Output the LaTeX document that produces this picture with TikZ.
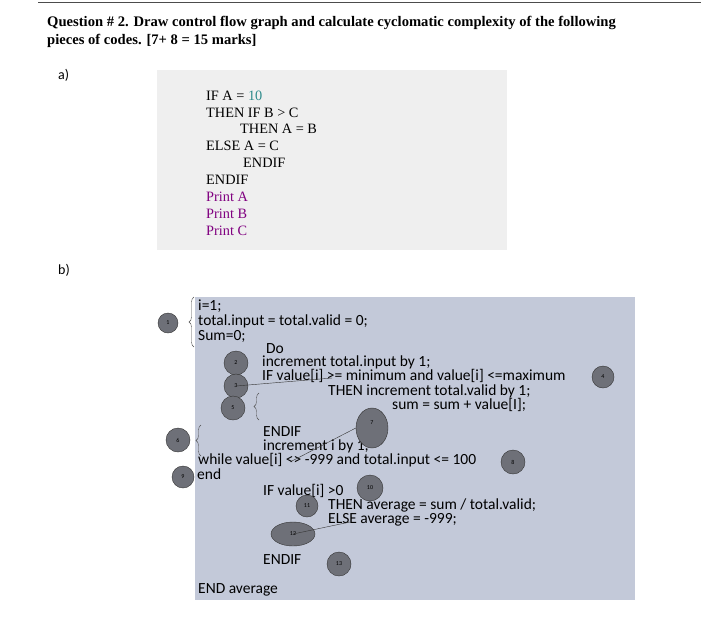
\documentclass[tikz,border=0pt]{standalone}
\usepackage{fontspec}
\setmainfont{Carlito}
\newfontfamily\tnr{Liberation Serif}
\usetikzlibrary{decorations.pathreplacing,shapes.geometric}
\definecolor{boxa}{HTML}{EFEFEF}
\definecolor{boxb}{HTML}{C3C9D9}
\definecolor{circ}{HTML}{6E7078}
\definecolor{tealc}{HTML}{2E8B8B}
\definecolor{purp}{HTML}{800080}
\begin{document}
\begin{tikzpicture}[x=1pt,y=-1pt,
  txt/.style={anchor=west,inner sep=0pt,font=\fontsize{15.5}{15.5}\selectfont},
  code/.style={anchor=west,inner sep=0pt,font=\tnr\fontsize{14.3}{14.3}\selectfont},
  num/.style={circle,draw=black!80,fill=circ,inner sep=0pt,font=\fontsize{6}{6}\selectfont,text=black},
  brc/.style={decorate,decoration={brace,amplitude=5pt},draw=black!70,thin}]
\useasboundingbox (0,0) rectangle (701,619);
\fill[white] (0,0) rectangle (701,619);
\draw[black!70] (38,2) -- (701,2);
\node[anchor=west,inner sep=0pt,font=\tnr\bfseries\fontsize{14.6}{14.6}\selectfont] (t1) at (47,23) {Question \# 2. Draw control flow graph and calculate cyclomatic complexity of the following};
\node[anchor=west,inner sep=0pt,font=\tnr\bfseries\fontsize{14.6}{14.6}\selectfont] (t2) at (47,41) {pieces of codes. [7+ 8 = 15 marks]};
\node[txt,font=\fontsize{14}{14}\selectfont] (la) at (58,75) {a)};
\fill[boxa] (157,70) rectangle (507,250);
\node[code] (a1) at (206,96) {IF A = \textcolor{tealc}{10}};
\node[code] (a2) at (206,113) {THEN IF B > C};
\node[code] (a3) at (240,129) {THEN A = B};
\node[code] (a4) at (206,146) {ELSE A = C};
\node[code] (a5) at (243,163) {ENDIF};
\node[code] (a6) at (206,180) {ENDIF};
\node[code,text=purp] (a7) at (206,197) {Print A};
\node[code,text=purp] (a8) at (206,214) {Print B};
\node[code,text=purp] (a9) at (206,231) {Print C};
\node[txt,font=\fontsize{14}{14}\selectfont] (lb) at (58,270) {b)};
\fill[boxb] (195,297) rectangle (635,600);
\draw[brc] (194,347) -- (194,297);
\node[txt] (b1) at (198,306) {i=1;};
\node[txt] (b2) at (198,321) {total.input = total.valid = 0;};
\node[txt] (b3) at (198,336) {Sum=0;};
\node[txt] (b4) at (266,349) {Do};
\node[txt] (b5) at (262,362) {increment total.input by 1;};
\node[txt] (b6) at (262,376) {IF value[i] >= minimum and value[i] <=maximum};
\node[txt] (b7) at (328,391) {THEN increment total.valid by 1;};
\node[txt] (b8) at (392,405) {sum = sum + value[I];};
\draw[brc] (259,420) -- (259,393);
\node[txt] (b9) at (263,432) {ENDIF};
\node[txt] (b10) at (263,446) {increment i by 1;};
\draw[brc] (201,456) -- (201,425);
\node[txt] (b11) at (198,460) {while value[i] <> -999 and total.input <= 100};
\node[txt] (b12) at (197,474) {end};
\node[txt] (b13) at (263,491) {IF value[i] >0};
\node[txt] (b14) at (328,505) {THEN average = sum / total.valid;};
\node[txt] (b15) at (328,520) {ELSE average = -999;};
\node[txt] (b16) at (263,560) {ENDIF};
\node[txt] (b17) at (198,590) {END average};
\node[num,minimum size=20] (n1) at (168,323) {1};
\node[num,minimum size=24] (n2) at (236,363) {2};
\node[num,minimum size=24] (n3) at (236,386) {3};
\node[num,minimum size=22] (n4) at (603,377) {4};
\node[num,minimum size=24] (n5) at (233,408) {5};
\node[num,minimum size=24] (n6) at (178,440) {6};
\node[num,ellipse,minimum width=32,minimum height=40] (n7) at (372,428) {\raisebox{10pt}{7}};
\node[num,minimum size=24] (n8) at (513,462) {8};
\node[num,minimum size=22] (n9) at (183,477) {9};
\node[num,minimum size=26] (n10) at (370,488) {10};
\node[num,minimum size=22] (n11) at (307,506) {11};
\node[num,ellipse,minimum width=44,minimum height=24] (n12) at (293,534) {12};
\node[num,minimum size=24] (n13) at (339,564) {13};
\coordinate (e3) at (332,378);
\coordinate (e7) at (290,462);
\coordinate (e12) at (350,522);
\draw[black!80] (n3.center) -- (e3);
\draw[black!80] (n7.west) -- (e7);
\draw[black!80] (n12.center) -- (e12);
\end{tikzpicture}
\end{document}
